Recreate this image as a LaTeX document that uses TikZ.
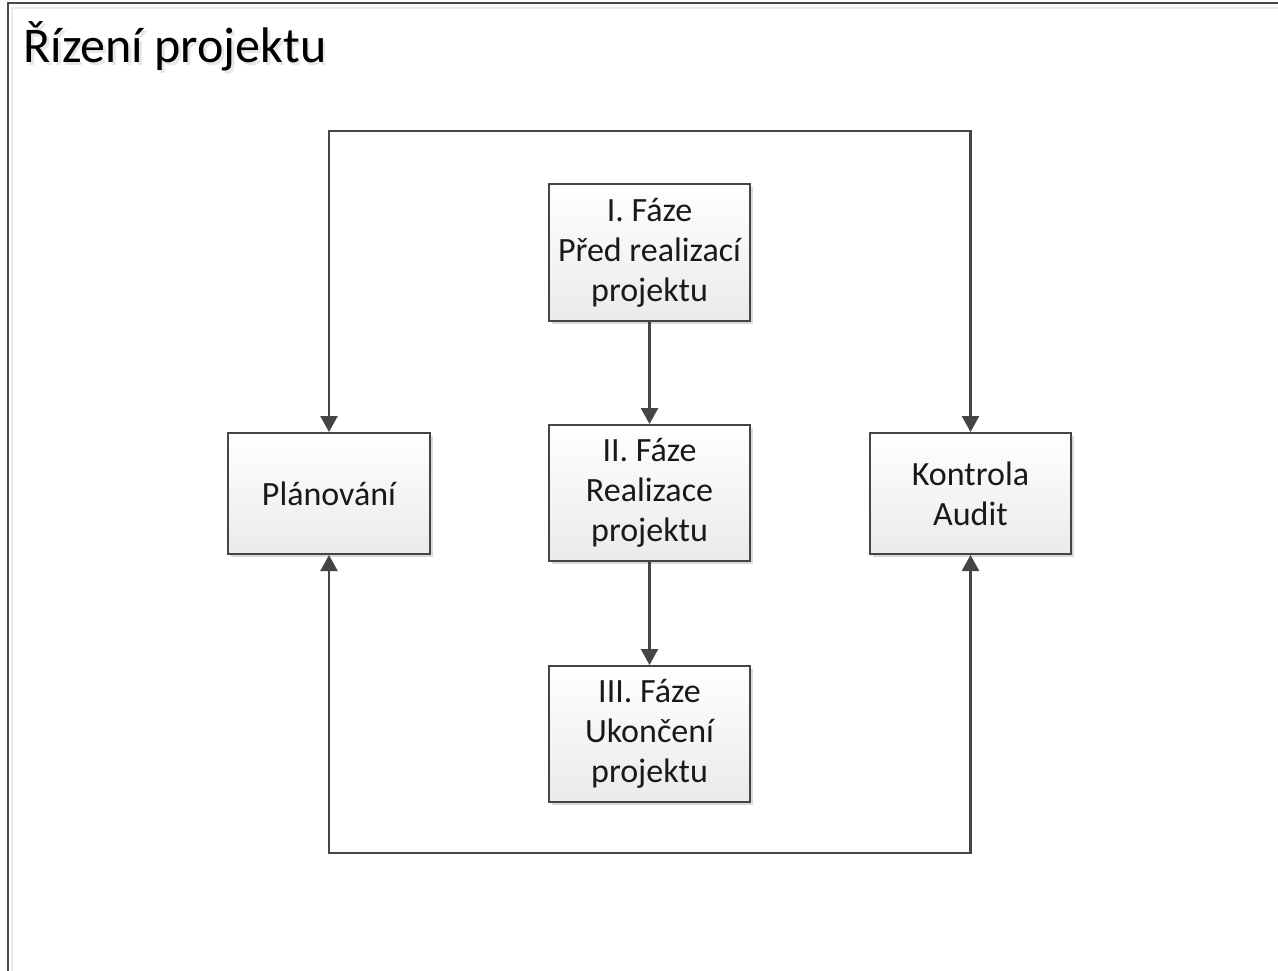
\documentclass[tikz,border=0pt]{standalone}
\usepackage{fontspec}
\setmainfont{Carlito}
\usepackage{tikz}
\usetikzlibrary{arrows.meta,shadows}
\usepackage{xcolor}
\definecolor{linegray}{HTML}{454545}
\definecolor{framegray}{HTML}{4A4A4A}

\begin{document}
\begin{tikzpicture}[x=1pt, y=-1pt,
  box/.style={draw=linegray, line width=2pt, inner sep=0pt, align=center,
    top color=white, bottom color=black!8,
    drop shadow={shadow xshift=3pt, shadow yshift=-3pt, opacity=0.15, fill=black},
    font=\fontsize{34}{40}\selectfont, text=black!90},
  link/.style={draw=linegray, line width=2.4pt, -{Triangle[length=16pt, width=17pt]}}]
\useasboundingbox (0,0) rectangle (1278,971);
\fill [white] (0,0) rectangle (1278,971);
\draw [framegray, line width=2.5pt] (8,971) -- (8,3) -- (1278,3);
\draw [black!8, line width=2pt] (12,971) -- (12,8) -- (1278,8);
\node [anchor=base west, font=\fontsize{50}{60}\selectfont, text=black!30, opacity=0.3] at (22.5,65.5) {Řízení projektu};
\node (title) [anchor=base west, font=\fontsize{50}{60}\selectfont] at (20,63) {Řízení projektu};
\node (faze1) [box, minimum width=201pt, minimum height=137pt] at (649.5,252.5) {I. Fáze\\Před realizací\\projektu};
\node (faze2) [box, minimum width=201pt, minimum height=136pt] at (649.5,493) {II. Fáze\\Realizace\\projektu};
\node (faze3) [box, minimum width=201pt, minimum height=136pt] at (649.5,734) {III. Fáze\\Ukončení\\projektu};
\node (plan) [box, minimum width=202pt, minimum height=121pt] at (329,493.5) {Plánování};
\node (kontrola) [box, minimum width=201pt, minimum height=121pt] at (970.5,493.5) {Kontrola\\Audit};
\coordinate (top) at (649.5,131);
\coordinate (bottom) at (649.5,853);
\draw [link] (faze1) -- (faze2);
\draw [link] (faze2) -- (faze3);
\draw [link, {Triangle[length=16pt, width=17pt]}-{Triangle[length=16pt, width=17pt]}] (plan.north) |- (top) -| (kontrola.north);
\draw [link, {Triangle[length=16pt, width=17pt]}-{Triangle[length=16pt, width=17pt]}] (plan.south) |- (bottom) -| (kontrola.south);
\end{tikzpicture}
\end{document}
